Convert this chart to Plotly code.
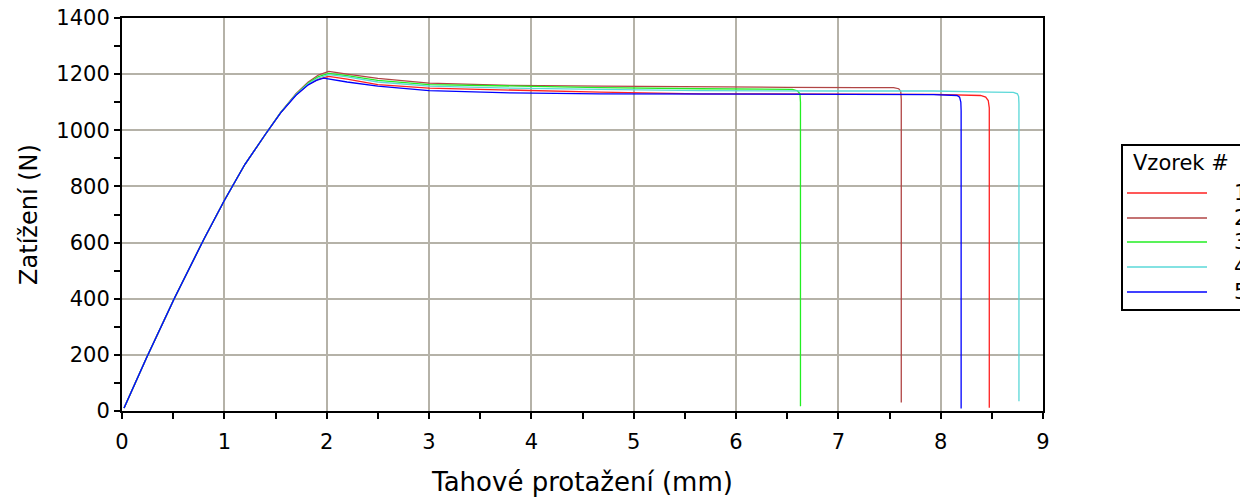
import plotly.graph_objects as go

# ---------------- data ----------------
sample_names = ["1", "2", "3", "4", "5"]
sample_colors = ["#ff2020", "#b04545", "#22ee22", "#5ad8d8", "#0000ff"]

x_1 = [0.02, 0.24, 0.51, 0.80, 1.0, 1.2, 1.4, 1.55, 1.7, 1.82, 1.92, 2.02, 2.2, 2.5, 3.0, 3.8, 4.67, 5.65, 6.5, 7.5, 7.93, 8.39, 8.44, 8.465, 8.475, 8.475]
y_1 = [11, 190, 400, 612, 750, 878, 985, 1062, 1126, 1163, 1182, 1192, 1182, 1163, 1150, 1143, 1136, 1130, 1129, 1128, 1128, 1124, 1118, 1106, 1080, 12]

x_2 = [0.02, 0.24, 0.51, 0.80, 1.0, 1.2, 1.4, 1.55, 1.7, 1.82, 1.92, 2.02, 2.2, 2.5, 3.0, 3.8, 4.67, 5.65, 6.5, 7.2, 7.54, 7.59, 7.61, 7.615, 7.615]
y_2 = [11, 190, 400, 612, 750, 878, 985, 1064, 1130, 1172, 1197, 1210, 1200, 1185, 1168, 1160, 1157, 1154, 1153, 1152, 1152, 1148, 1138, 1110, 30]

x_3 = [0.02, 0.24, 0.51, 0.80, 1.0, 1.2, 1.4, 1.55, 1.7, 1.82, 1.92, 2.02, 2.2, 2.5, 3.0, 3.8, 4.67, 5.65, 6.2, 6.55, 6.6, 6.625, 6.63, 6.63]
y_3 = [11, 190, 400, 612, 750, 878, 985, 1063, 1128, 1168, 1191, 1203, 1195, 1178, 1163, 1157, 1152, 1148, 1147, 1146, 1141, 1130, 1100, 17]

x_4 = [0.02, 0.24, 0.51, 0.80, 1.0, 1.2, 1.4, 1.55, 1.7, 1.82, 1.92, 2.02, 2.2, 2.5, 3.0, 3.8, 4.67, 5.65, 7.0, 7.93, 8.5, 8.71, 8.75, 8.762, 8.765, 8.765]
y_4 = [11, 190, 400, 612, 750, 878, 985, 1063, 1127, 1166, 1187, 1198, 1190, 1172, 1157, 1150, 1146, 1141, 1140, 1140, 1136, 1135, 1130, 1120, 1095, 35]

x_5 = [0.02, 0.24, 0.51, 0.80, 1.0, 1.2, 1.4, 1.55, 1.7, 1.82, 1.9, 1.97, 2.2, 2.5, 3.0, 3.8, 4.67, 5.65, 7.0, 7.93, 8.16, 8.185, 8.197, 8.2, 8.2]
y_5 = [11, 190, 400, 612, 750, 878, 985, 1062, 1125, 1162, 1178, 1186, 1172, 1157, 1141, 1133, 1130, 1129, 1127, 1127, 1124, 1118, 1100, 1070, 9]

x_data = [x_1, x_2, x_3, x_4, x_5]
y_data = [y_1, y_2, y_3, y_4, y_5]

x_ticks = [0, 1, 2, 3, 4, 5, 6, 7, 8, 9]
y_ticks = [0, 200, 400, 600, 800, 1000, 1200, 1400]

x_title = "Tahové protažení (mm)"
y_title = "Zatížení (N)"
legend_title = "Vzorek #"

# ---------------- layout constants ----------------
W, H = 1240, 497
ML, MR, MT, MB = 122, 197, 18, 86
PW, PH = W - ML - MR, H - MT - MB
FONT = "DejaVu Sans"
GRID = "#b5b2a8"


def px_to_paper_x(px):
    return (px - ML) / PW


def px_to_paper_y(py):
    return (H - MB - py) / PH


fig = go.Figure()
for name, color, xs, ys in zip(sample_names, sample_colors, x_data, y_data):
    fig.add_trace(go.Scatter(x=xs, y=ys, mode="lines", name=name,
                             line=dict(color=color, width=1.3),
                             showlegend=False))

axis_common = dict(
    showline=True, linecolor="black", linewidth=2, mirror=True,
    showgrid=True, gridcolor=GRID, gridwidth=2,
    ticks="outside", ticklen=6, tickwidth=2, tickcolor="black",
    tickfont=dict(family=FONT, size=21, color="black"),
    zeroline=False, fixedrange=True,
)

fig.update_xaxes(range=[0, 9], tickvals=x_ticks, ticktext=[str(v) for v in x_ticks],
                 minor=dict(ticks="outside", dtick=0.5, ticklen=6, tickwidth=2,
                            tickcolor="black", showgrid=False),
                 title=dict(text=x_title, font=dict(family=FONT, size=26, color="black"),
                            standoff=20),
                 ticklabelstandoff=5,
                 **axis_common)
fig.update_yaxes(range=[0, 1400], tickvals=y_ticks, ticktext=[str(v) for v in y_ticks],
                 minor=dict(ticks="outside", dtick=100, ticklen=6, tickwidth=2,
                            tickcolor="black", showgrid=False),
                 title=dict(text=y_title, font=dict(family=FONT, size=24, color="black"),
                            standoff=12),
                 **axis_common)

# ---------------- custom legend ----------------
shapes = []
annotations = []
box_l, box_t, box_b = 1122, 145, 310
shapes.append(dict(type="rect", xref="paper", yref="paper",
                   x0=px_to_paper_x(box_l), x1=px_to_paper_x(W + 20),
                   y0=px_to_paper_y(box_b), y1=px_to_paper_y(box_t),
                   line=dict(color="black", width=2), fillcolor="white", layer="below"))
annotations.append(dict(xref="paper", yref="paper", x=px_to_paper_x(1131), y=px_to_paper_y(163),
                        xanchor="left", yanchor="middle", text=legend_title, showarrow=False,
                        font=dict(family=FONT, size=21, color="black")))
item_y = [193, 218, 242, 267, 292]
for name, color, py in zip(sample_names, sample_colors, item_y):
    shapes.append(dict(type="line", xref="paper", yref="paper",
                       x0=px_to_paper_x(1127), x1=px_to_paper_x(1207),
                       y0=px_to_paper_y(py), y1=px_to_paper_y(py),
                       line=dict(color=color, width=1.5)))
    annotations.append(dict(xref="paper", yref="paper", x=px_to_paper_x(1232), y=px_to_paper_y(py),
                            xanchor="left", yanchor="middle", text=name, showarrow=False,
                            font=dict(family=FONT, size=21, color="black")))

fig.update_layout(
    width=W, height=H,
    margin=dict(l=ML, r=MR, t=MT, b=MB, autoexpand=False),
    paper_bgcolor="white", plot_bgcolor="white",
    shapes=shapes, annotations=annotations,
    showlegend=False,
)

fig.write_html("out.html", config={"displayModeBar": False})
